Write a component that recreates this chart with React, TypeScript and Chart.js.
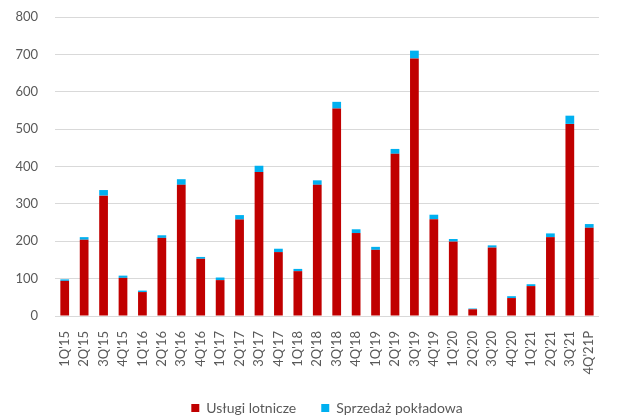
import React, { useEffect, useRef } from "react";
import { Chart, registerables } from "chart.js";

Chart.register(...registerables);

const categories = [
  "1Q'15", "2Q'15", "3Q'15", "4Q'15", "1Q'16", "2Q'16", "3Q'16", "4Q'16",
  "1Q'17", "2Q'17", "3Q'17", "4Q'17", "1Q'18", "2Q'18", "3Q'18", "4Q'18",
  "1Q'19", "2Q'19", "3Q'19", "4Q'19", "1Q'20", "2Q'20", "3Q'20", "4Q'20",
  "1Q'21", "2Q'21", "3Q'21", "4Q'21P",
];

const uslugiLotnicze = [
  94, 204, 322, 102, 64, 209, 351, 153,
  96, 258, 385, 171, 120, 351, 555, 222,
  177, 434, 689, 259, 199, 18, 183, 48,
  80, 211, 514, 236,
];

const sprzedazPokladowa = [
  4, 7, 15, 6, 4, 7, 15, 5,
  7, 12, 17, 9, 6, 12, 18, 10,
  8, 13, 21, 12, 7, 2, 6, 5,
  5, 10, 22, 10,
];

const seriesNames = ["Usługi lotnicze", "Sprzedaż pokładowa"];
const yTicks = [0, 100, 200, 300, 400, 500, 600, 700, 800];

export default function App() {
  const ref = useRef<HTMLCanvasElement>(null);

  useEffect(() => {
    if (!ref.current) return;
    const font = "Lato, 'Open Sans', sans-serif";
    const chart = new Chart(ref.current, {
      type: "bar",
      data: {
        labels: categories,
        datasets: [
          {
            label: seriesNames[0],
            data: uslugiLotnicze,
            backgroundColor: "#C00000",
            barPercentage: 0.45,
            categoryPercentage: 1,
          },
          {
            label: seriesNames[1],
            data: sprzedazPokladowa,
            backgroundColor: "#00B0F0",
            barPercentage: 0.45,
            categoryPercentage: 1,
          },
        ],
      },
      options: {
        animation: false,
        responsive: false,
        maintainAspectRatio: false,
        layout: { padding: { top: 17, right: 8, left: 0, bottom: -6 } },
        plugins: {
          legend: {
            position: "bottom",
            fullSize: false,
            labels: {
              boxWidth: 8,
              boxHeight: 8,
              color: "#595959",
              font: { family: font, size: 14 },
              padding: 25,
            },
          },
          tooltip: { enabled: false },
        },
        scales: {
          x: {
            stacked: true,
            grid: { display: false, drawTicks: false },
            border: { color: "#D9D9D9", width: 1 },
            afterFit: (axis: any) => {
              axis.height = 60;
            },
            ticks: {
              color: "#595959",
              font: { family: font, size: 13 },
              minRotation: 90,
              maxRotation: 90,
              autoSkip: false,
              padding: 15,
            },
          },
          y: {
            stacked: true,
            min: 0,
            max: 800,
            afterBuildTicks: (axis: any) => {
              axis.ticks = yTicks.map((v) => ({ value: v }));
            },
            afterFit: (axis: any) => {
              axis.width = 55;
            },
            grid: {
              color: "#D9D9D9",
              lineWidth: 1,
              drawTicks: true,
              tickLength: 17,
              tickColor: "rgba(0,0,0,0)",
            },
            border: { display: false },
            ticks: {
              color: "#595959",
              font: { family: font, size: 13 },
              padding: 0,
            },
          },
        },
      },
    });
    return () => chart.destroy();
  }, []);

  return (
    <div style={{ position: "fixed", left: 0, top: 0, width: 620, height: 419, background: "#fff" }}>
      <canvas ref={ref} width={620} height={419} />
    </div>
  );
}
